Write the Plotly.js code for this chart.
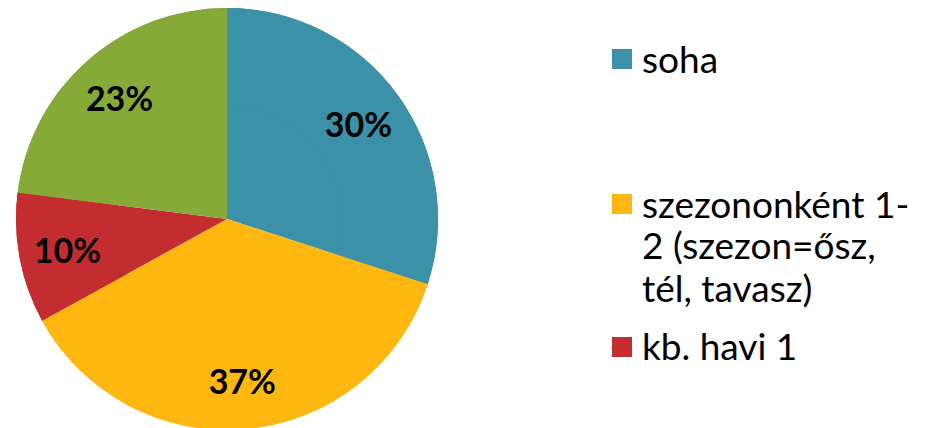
<!DOCTYPE html>
<html>
<head>
<meta charset="utf-8">
<script src="https://cdn.plot.ly/plotly-3.0.1.min.js"></script>
<style>
html, body { margin: 0; padding: 0; overflow: hidden; background: #ffffff; }
#chart { width: 927px; height: 440px; }
</style>
</head>
<body>
<div id="chart"></div>
<script>
// ---- Data ----
const categories = [
  "soha",
  "szezononként 1-2 (szezon=ősz, tél, tavasz)",
  "kb. havi 1",
  "kb. heti 1"
];
const values = [30, 37, 10, 23];
const sliceColors = ["#3A91A8", "#FDB710", "#C42D30", "#86AA37"];
// legend text as wrapped in the reference (the 4th entry is cut off there)
const legendLines = [
  ["soha"],
  ["szezononként 1-", "2 (szezon=ősz,", "tél, tavasz)"],
  ["kb. havi 1"]
];

// ---- Layout helpers ----
const W = 927, H = 440;
const cx = 227, cy = 219, r = 211;
const px = x => x / W;
const py = y => 1 - y / H;

const domain = {
  x: [px(cx - r), px(cx + r)],
  y: [py(cy + r), py(cy - r)]
};

// base pie (slices)
const basePie = {
  type: "pie",
  labels: categories,
  values: values,
  sort: false,
  direction: "clockwise",
  rotation: 0,
  marker: { colors: sliceColors, line: { width: 0 } },
  textinfo: "none",
  hoverinfo: "skip",
  showlegend: false,
  domain: domain
};

// same slices as a ring, carrying the percentage labels further out
const labelPie = {
  type: "pie",
  labels: categories,
  values: values,
  sort: false,
  direction: "clockwise",
  rotation: 0,
  hole: 0.54,
  marker: { colors: sliceColors, line: { width: 0 } },
  textinfo: "percent",
  texttemplate: "%{percent:.0%}",
  textposition: "inside",
  insidetextorientation: "horizontal",
  textfont: { family: "Lato, sans-serif", size: 34, color: "#000000", weight: "bold" },
  hoverinfo: "label+percent",
  showlegend: false,
  domain: domain
};

// ---- Legend (drawn as shapes + annotations) ----
const legendMarkerY = [59, 204, 347];
const legendFirstBaseline = [72, 216, 358];
const lineStep = 42;
const shapes = [];
const annotations = [];
legendLines.forEach((lines, i) => {
  const c = legendMarkerY[i];
  shapes.push({
    type: "rect", xref: "paper", yref: "paper",
    x0: px(612), x1: px(632), y0: py(c + 10), y1: py(c - 10),
    fillcolor: sliceColors[i], line: { width: 0 }
  });
  lines.forEach((t, j) => {
    annotations.push({
      xref: "paper", yref: "paper",
      x: px(640), y: py(legendFirstBaseline[i] + j * lineStep - 13),
      xanchor: "left", yanchor: "middle",
      text: t, showarrow: false,
      font: { family: "Lato, sans-serif", size: 37, color: "#000000" }
    });
  });
});

const layout = {
  width: W,
  height: H,
  margin: { l: 0, r: 0, t: 0, b: 0 },
  paper_bgcolor: "#ffffff",
  showlegend: false,
  shapes: shapes,
  annotations: annotations
};

Plotly.newPlot("chart", [basePie, labelPie], layout, { displayModeBar: false, staticPlot: true });
</script>
</body>
</html>
